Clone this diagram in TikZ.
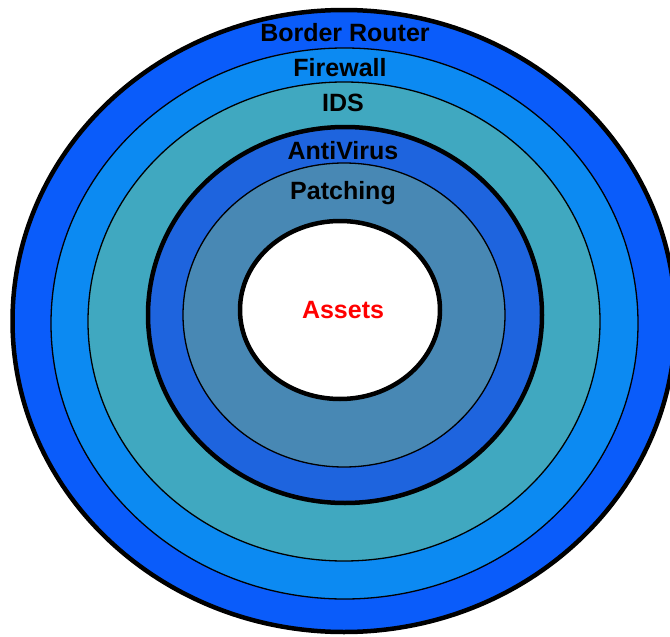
\documentclass[tikz,border=0pt]{standalone}
\usepackage{fontspec}
\setmainfont{Liberation Sans}
\definecolor{ringBorder}{RGB}{10,92,250}
\definecolor{ringFirewall}{RGB}{12,138,242}
\definecolor{ringIDS}{RGB}{64,168,192}
\definecolor{ringAV}{RGB}{30,100,222}
\definecolor{ringPatch}{RGB}{72,136,180}
\definecolor{assetRed}{RGB}{255,0,0}
\tikzset{
  thinring/.style={draw=black, line width=1.3pt},
  thickring/.style={draw=black, line width=4.5pt},
  layer/.style={font=\bfseries\fontsize{25}{30}\selectfont, text=black, inner sep=0pt},
  core/.style={font=\fontsize{25}{30}\selectfont\bfseries, text=assetRed, inner sep=0pt}
}
\begin{document}
\begin{tikzpicture}[x=1pt,y=-1pt]
\useasboundingbox (0,0) rectangle (670,637);
\fill[white] (0,0) rectangle (670,637);
\clip (0,0) rectangle (670,637);
% concentric defence layers, outermost first
\path[thickring, fill=ringBorder]   (344,321)   ellipse [x radius=331.5, y radius=311];
\path[thinring,  fill=ringFirewall] (344.5,323.5) ellipse [x radius=293.5, y radius=275.5];
\path[thinring,  fill=ringIDS]      (344,321.5) ellipse [x radius=256, y radius=239.5];
\path[thickring, fill=ringAV]       (345,315)   ellipse [x radius=197, y radius=188];
\path[thinring,  fill=ringPatch]    (344,315)   ellipse [x radius=161, y radius=152];
\path[thickring, fill=white]        (340,310)   ellipse [x radius=100, y radius=89];
% layer labels
\node[layer] (border)   at (345,33)  {Border Router};
\node[layer] (firewall) at (340,68)  {Firewall};
\node[layer] (ids)      at (343,103) {IDS};
\node[layer] (av)       at (343,151) {AntiVirus};
\node[layer] (patch)    at (343,193) {Patching};
\node[core]  (assets)   at (343,310) {Assets};
\end{tikzpicture}
\end{document}
